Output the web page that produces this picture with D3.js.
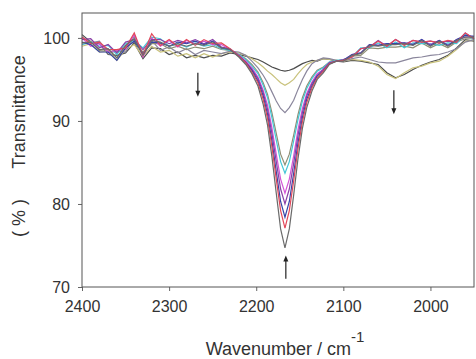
<!doctype html>
<html>
<head>
<meta charset="UTF-8">
<title>IR spectra</title>
<script src="https://d3js.org/d3.v7.min.js"></script>
<style>
  body { margin: 0; background: #fff; }
  text { font-family: "Liberation Sans", Arial, sans-serif; fill: #333; }
</style>
</head>
<body>
<script>
// wavenumber grid (cm-1)
var wavenumbers = [2400, 2390, 2380, 2370, 2360, 2350, 2340, 2330, 2320, 2310, 2300, 2290, 2280, 2270, 2260, 2250, 2240, 2230,
  2220, 2212, 2205, 2198, 2192, 2187, 2182, 2177, 2172, 2167, 2162, 2157, 2152, 2147, 2142, 2136, 2130, 2123, 2116, 2108,
  2100, 2090, 2080, 2070, 2060, 2050, 2040, 2030, 2020, 2010, 2000, 1990, 1980, 1970, 1960, 1950];

// transmittance (%) of each spectrum
var s1 = [100.4, 99.5, 99.3, 98.0, 97.9, 98.2, 99.4, 97.5, 98.8, 98.7, 98.0, 98.3, 97.6, 97.9, 97.6, 97.9, 97.8, 98.2,
  98.0, 97.8, 97.6, 97.4, 97.1, 96.8, 96.5, 96.3, 96.1, 96.0, 96.1, 96.3, 96.6, 96.9, 97.1, 97.3, 97.2, 97.5, 97.4, 97.2,
  97.1, 97.3, 97.2, 97.0, 96.8, 95.8, 95.2, 95.6, 96.2, 96.7, 97.1, 97.4, 97.9, 98.8, 99.8, 99.6];
var s2 = [99.0, 99.3, 98.3, 98.4, 97.3, 98.6, 99.2, 97.8, 99.0, 98.3, 98.5, 97.8, 98.1, 97.6, 98.1, 97.7, 98.1, 98.3,
  98.2, 97.9, 97.5, 97.0, 96.5, 96.0, 95.6, 95.1, 94.6, 94.3, 94.6, 95.0, 95.7, 96.3, 96.8, 97.1, 97.3, 97.5, 97.4, 97.3,
  97.2, 97.4, 97.3, 97.1, 96.6, 95.6, 95.1, 95.8, 96.4, 96.6, 97.0, 97.2, 97.8, 98.6, 99.6, 99.7];
var s3 = [100.1, 99.4, 99.6, 98.2, 98.4, 98.3, 100.2, 97.9, 99.7, 98.5, 98.9, 98.2, 98.7, 98.0, 98.5, 98.3, 98.1, 98.4,
  98.3, 97.9, 97.2, 96.4, 95.5, 94.6, 93.5, 92.4, 91.5, 91.0, 91.6, 92.5, 93.8, 95.0, 96.0, 96.9, 97.3, 97.6, 97.5, 97.3,
  97.2, 97.5, 97.7, 97.4, 97.1, 97.0, 97.0, 97.3, 97.6, 97.7, 97.9, 98.0, 98.3, 98.7, 99.5, 99.8];
var s4 = [99.4, 99.6, 98.5, 98.6, 97.6, 99.0, 99.5, 98.3, 99.3, 99.3, 98.7, 99.0, 98.6, 98.9, 98.7, 99.0, 98.6, 98.5,
  98.0, 97.5, 96.8, 95.9, 94.6, 93.2, 91.0, 88.5, 86.0, 84.7, 86.0, 88.3, 90.8, 92.8, 94.2, 95.3, 96.1, 96.5, 97.1, 97.3,
  97.2, 97.8, 97.9, 98.8, 98.7, 98.9, 98.9, 99.0, 98.8, 99.4, 98.8, 99.3, 98.8, 99.5, 99.9, 99.9];
var s5 = [99.2, 99.5, 99.0, 99.1, 98.0, 99.3, 99.7, 98.8, 100.1, 99.9, 99.0, 99.3, 98.9, 99.4, 99.0, 99.2, 98.7, 98.5,
  98.0, 97.4, 96.6, 95.7, 94.3, 92.8, 90.4, 87.7, 85.1, 83.7, 85.1, 87.6, 90.2, 92.4, 93.9, 95.1, 96.0, 96.4, 97.1, 97.3,
  97.4, 97.7, 98.8, 98.8, 99.4, 98.8, 99.5, 98.8, 99.4, 99.3, 99.3, 99.1, 99.4, 99.3, 100.4, 99.8];
var s6 = [100.0, 99.0, 99.3, 98.3, 98.5, 98.6, 100.4, 97.7, 100.0, 99.0, 99.7, 98.9, 99.7, 99.3, 99.6, 99.2, 99.2, 98.6,
  97.9, 97.2, 96.4, 95.3, 93.7, 91.9, 89.2, 86.0, 83.0, 81.3, 83.0, 85.8, 89.0, 91.5, 93.3, 94.7, 95.7, 96.2, 97.0, 97.2,
  97.3, 98.0, 98.2, 99.2, 99.1, 99.3, 99.3, 99.4, 99.2, 99.8, 99.2, 99.7, 99.1, 99.8, 100.1, 100.2];
var s7 = [99.8, 99.9, 98.8, 99.2, 98.2, 99.5, 99.8, 98.6, 99.8, 99.8, 99.3, 99.7, 99.4, 99.8, 99.3, 99.8, 98.9, 98.7,
  97.9, 97.1, 96.2, 95.1, 93.4, 91.4, 88.5, 85.1, 81.8, 80.0, 81.8, 84.9, 88.3, 91.0, 93.0, 94.5, 95.5, 96.2, 97.0, 97.2,
  97.4, 97.7, 98.7, 98.9, 99.7, 99.0, 99.8, 99.2, 99.7, 99.5, 99.6, 99.4, 99.6, 99.5, 100.6, 99.9];
var s8 = [99.5, 99.2, 98.3, 98.3, 97.3, 98.8, 99.6, 98.1, 99.5, 99.4, 99.0, 99.5, 99.3, 99.6, 99.2, 99.6, 98.8, 98.6,
  97.8, 97.0, 96.1, 94.8, 93.0, 90.8, 87.6, 83.9, 80.3, 78.4, 80.3, 83.7, 87.4, 90.4, 92.6, 94.2, 95.4, 96.0, 96.9, 97.2,
  97.3, 98.0, 98.2, 99.2, 99.1, 99.3, 99.3, 99.4, 99.2, 99.8, 99.1, 99.7, 99.1, 99.8, 100.3, 100.2];
var s9 = [100.1, 99.3, 99.5, 98.6, 98.6, 98.8, 100.6, 97.9, 100.5, 99.1, 99.8, 99.0, 99.8, 99.1, 99.8, 99.3, 99.4, 98.7,
  97.8, 97.0, 95.9, 94.6, 92.6, 90.3, 86.9, 83.0, 79.2, 77.1, 79.2, 82.8, 86.7, 89.9, 92.2, 94.0, 95.2, 96.0, 96.9, 97.2,
  97.3, 97.7, 98.7, 98.9, 99.6, 99.0, 99.8, 99.1, 99.7, 99.5, 99.6, 99.4, 99.7, 99.5, 100.6, 99.9];
var s10 = [99.4, 99.5, 98.6, 98.7, 97.6, 99.1, 99.9, 97.9, 99.7, 99.5, 99.0, 99.3, 99.0, 99.3, 99.1, 99.5, 98.8, 98.6,
  97.7, 96.8, 95.7, 94.2, 92.0, 89.5, 85.7, 81.3, 77.0, 74.7, 77.0, 81.1, 85.5, 89.1, 91.6, 93.6, 95.0, 95.8, 96.8, 97.2,
  97.2, 97.9, 98.1, 99.1, 99.0, 99.2, 99.2, 99.3, 99.1, 99.7, 99.0, 99.6, 99.0, 99.7, 100.1, 100.1];

var seriesList = [s1, s2, s3, s4, s5, s6, s7, s8, s9, s10];
var colors = ["#4d4d4d", "#c9c27c", "#8a869c", "#8e8e74", "#45c6d6", "#d455d6", "#8a3fa6", "#3444a8", "#e2485a", "#6a6a6a"];

var xTicks = [2400, 2300, 2200, 2100, 2000];
var yTicks = [70, 80, 90, 100];

// arrows: [wavenumber, from %, to %]
var arrows = [[2267, 95.8, 92.9], [2042, 93.7, 90.8], [2166, 71.0, 73.8]];

var w = 476, h = 359;
var m = { left: 82, top: 13, right: 2, bottom: 72 };
var iw = w - m.left - m.right, ih = h - m.top - m.bottom;

var svg = d3.select("body").append("svg").attr("width", w).attr("height", h);
var g = svg.append("g").attr("transform", "translate(" + m.left + "," + m.top + ")");

var x = d3.scaleLinear().domain([2400, 1950]).range([0, iw]);
var y = d3.scaleLinear().domain([70, 103]).range([ih, 0]);

// axes
var xAxis = g.append("g").attr("transform", "translate(0," + ih + ")")
  .call(d3.axisBottom(x).tickValues(xTicks).tickFormat(d3.format("d")).tickSize(4).tickPadding(10));
var yAxis = g.append("g")
  .call(d3.axisLeft(y).tickValues(yTicks).tickFormat(d3.format("d")).tickSize(4).tickPadding(8));
[xAxis, yAxis].forEach(function (a) {
  a.select(".domain").remove();
  a.selectAll("line").attr("stroke", "#666");
  a.selectAll("text").attr("font-size", 16).attr("fill", "#333")
    .style("font-family", "'Liberation Sans', Arial, sans-serif");
});

// spectra
var line = d3.line()
  .x(function (d, i) { return x(wavenumbers[i]); })
  .y(function (d) { return y(d); });

g.selectAll("path.spec")
  .data(seriesList)
  .enter()
  .append("path")
  .attr("class", "spec")
  .attr("d", line)
  .attr("fill", "none")
  .attr("stroke", function (d, i) { return colors[i]; })
  .attr("stroke-width", 1.2);

// frame
g.append("rect").attr("width", iw).attr("height", ih)
  .attr("fill", "none").attr("stroke", "#555").attr("stroke-width", 1);

// arrows
arrows.forEach(function (a) {
  var ax = x(a[0]), y0 = y(a[1]), y1 = y(a[2]);
  var dir = y1 > y0 ? 1 : -1;
  g.append("line").attr("x1", ax).attr("x2", ax).attr("y1", y0).attr("y2", y1 - dir * 5)
    .attr("stroke", "#222").attr("stroke-width", 1.2);
  g.append("path")
    .attr("d", "M" + (ax - 2.5) + "," + (y1 - dir * 6) + "L" + (ax + 2.5) + "," + (y1 - dir * 6) + "L" + ax + "," + y1 + "Z")
    .attr("fill", "#222");
});

// axis titles
var xl = svg.append("text").attr("x", 285).attr("y", 355).attr("text-anchor", "middle").attr("font-size", 18);
xl.append("tspan").text("Wavenumber / cm");
xl.append("tspan").attr("font-size", 15).attr("dy", -13).text("-1");

svg.append("text").attr("transform", "translate(25,112) rotate(-90)")
  .attr("text-anchor", "middle").attr("font-size", 18).text("Transmittance");
svg.append("text").attr("transform", "translate(25,218) rotate(-90)")
  .attr("text-anchor", "middle").attr("font-size", 18).text("( % )");
</script>
</body>
</html>
